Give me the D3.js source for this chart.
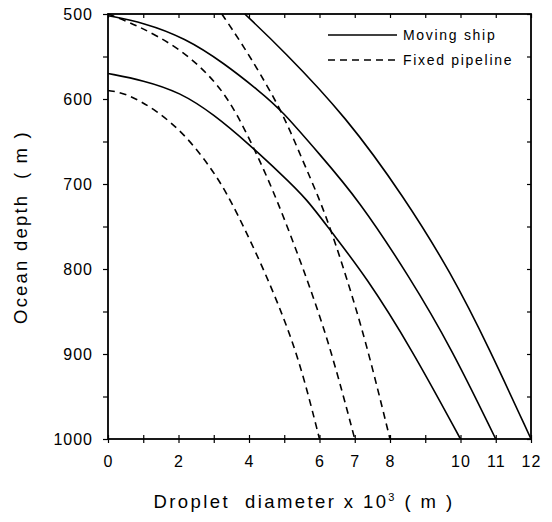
<!DOCTYPE html>
<html>
<head>
<meta charset="utf-8">
<script src="https://cdn.jsdelivr.net/npm/d3@7"></script>
<style>
  body { margin: 0; background: #fff; }
  svg { font-family: "Liberation Sans", Arial, sans-serif; }
  .tick text { font-size: 16px; fill: #000; letter-spacing: 1px; }
  .tick line { stroke: #000; stroke-width: 1.2; }
</style>
</head>
<body>
<div id="chart"></div>
<script>
// series: [droplet diameter x10^3, depth]
let shipA = [[3.88,500],[4.95,542],[6.76,621],[8.41,716],[9.74,805],[10.8,892],[12,1000]];
let shipB = [[0,502],[1,510],[2.18,528],[3.3,558],[4.3,591],[4.92,613],[6,665],[7.1,718],[8.55,809],[9.74,893],[11,1000]];
let shipC = [[0,570],[1,578],[2.04,592],[3,618],[4.02,654],[4.9,688],[5.63,717],[6.33,756],[7.32,809],[8.6,893],[10,1000]];
let pipeA = [[0,590],[0.5,593],[1.38,613],[2.24,644],[2.97,684],[3.45,716],[4.3,789],[5.0,858],[5.5,918],[6,1000]];
let pipeB = [[0,500],[0.82,513],[2.04,540],[3.09,580],[3.7,620],[4.3,672],[4.78,717],[5.52,797],[6.28,887],[7,1000]];
let pipeC = [[3.23,500],[3.8,535],[4.3,569],[4.95,616],[5.52,672],[6.0,718],[6.34,756],[6.76,809],[7.33,887],[8,1000]];

let xTickLabels = [0,2,4,6,7,8,10,11,12];
let yTickLabels = [500,600,700,800,900,1000];
let legendNames = ["Moving ship","Fixed pipeline"];

let width = 552, height = 522;
let padL = 108, padR = 531, padT = 14, padB = 439;

let svg = d3.select("#chart").append("svg")
  .attr("width", width).attr("height", height);

let x = d3.scaleLinear().domain([0,12]).range([padL,padR]);
let y = d3.scaleLinear().domain([500,1000]).range([padT,padB]);

let line = d3.line()
  .x(function(d){ return x(d[0]); })
  .y(function(d){ return y(d[1]); })
  .curve(d3.curveBasis);

// curves
[shipA, shipB, shipC].forEach(function(s){
  svg.append("path").datum(s)
    .attr("d", line).attr("fill","none")
    .attr("stroke","#000").attr("stroke-width",1.6);
});
[pipeA, pipeB, pipeC].forEach(function(s){
  svg.append("path").datum(s)
    .attr("d", line).attr("fill","none")
    .attr("stroke","#000").attr("stroke-width",1.6)
    .attr("stroke-dasharray","7,5");
});

// axes
let yAxis = d3.axisLeft(y).tickValues(d3.range(500,1001,50)).tickSize(5).tickPadding(10)
  .tickFormat(function(d){ return yTickLabels.indexOf(d) > -1 ? d : ""; });
svg.append("g").attr("transform","translate("+padL+",0)").call(yAxis)
  .call(function(g){ g.select(".domain").remove(); });

let xAxis = d3.axisBottom(x).tickValues(d3.range(0,13,1)).tickSize(4).tickPadding(13)
  .tickFormat(function(d){ return xTickLabels.indexOf(d) > -1 ? d : ""; });
svg.append("g").attr("transform","translate(0,"+padB+")").call(xAxis)
  .call(function(g){ g.select(".domain").remove(); });

// inward ticks on all sides
svg.append("g").attr("transform","translate(0,"+padB+")")
  .call(d3.axisTop(x).tickValues(d3.range(0,13,1)).tickSize(4).tickFormat(""))
  .call(function(g){ g.select(".domain").remove(); });
svg.append("g").attr("transform","translate(0,"+padT+")")
  .call(d3.axisBottom(x).tickValues(d3.range(0,13,1)).tickSize(4).tickFormat(""))
  .call(function(g){ g.select(".domain").remove(); });
svg.append("g").attr("transform","translate("+padR+",0)")
  .call(d3.axisLeft(y).tickValues(d3.range(500,1001,50)).tickSize(4).tickFormat(""))
  .call(function(g){ g.select(".domain").remove(); });

// frame
svg.append("rect")
  .attr("x",padL).attr("y",padT)
  .attr("width",padR-padL).attr("height",padB-padT)
  .attr("fill","none").attr("stroke","#000").attr("stroke-width",1.8);

// legend
let legend = svg.append("g");
legendNames.forEach(function(name,i){
  let ly = 35 + i*25;
  legend.append("line")
    .attr("x1",328).attr("x2",397).attr("y1",ly).attr("y2",ly)
    .attr("stroke","#000").attr("stroke-width",1.5)
    .attr("stroke-dasharray", i===1 ? "7,5" : null);
  legend.append("text")
    .attr("x",403).attr("y",ly+5)
    .attr("font-size","14px").attr("letter-spacing","1.7px")
    .text(name);
});

// axis titles
let xt = svg.append("text")
  .attr("x",304).attr("y",508)
  .attr("text-anchor","middle")
  .attr("font-size","18.5px").attr("letter-spacing","2.4px")
  .style("white-space","pre");
xt.append("tspan").text("Droplet  diameter x 10");
xt.append("tspan").attr("font-size","11px").attr("dy","-7").text("3");
xt.append("tspan").attr("dy","7").text(" ( m )");

svg.append("text")
  .attr("transform","translate(27,227) rotate(-90)")
  .attr("text-anchor","middle")
  .attr("font-size","18.5px").attr("letter-spacing","2.2px")
  .style("white-space","pre")
  .text("Ocean depth  ( m )");
</script>
</body>
</html>
